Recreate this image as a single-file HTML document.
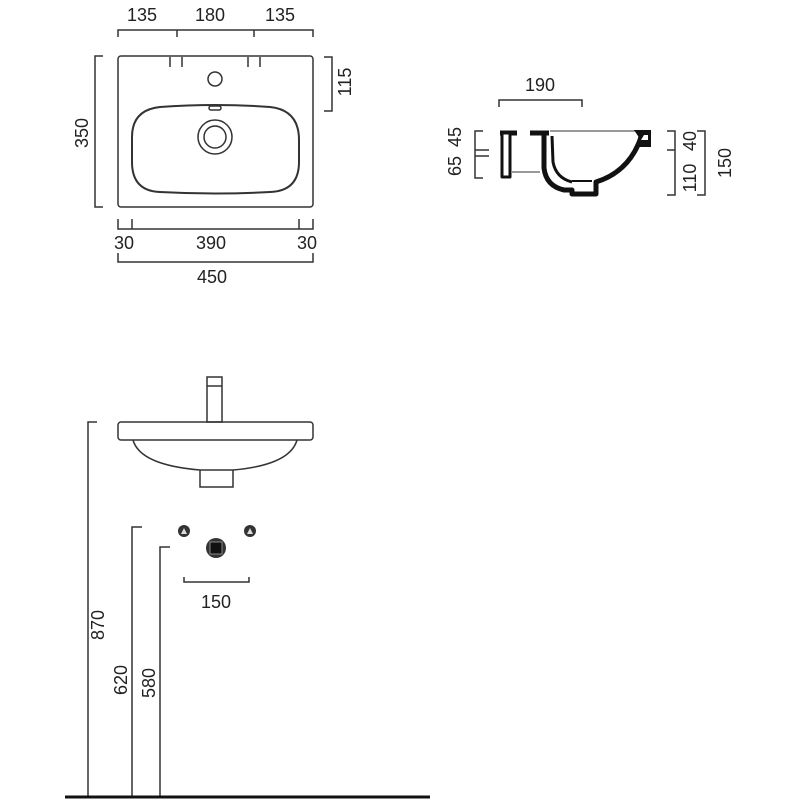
<!DOCTYPE html>
<html><head><meta charset="utf-8"><style>body{margin:0;background:#fff}svg{display:block}text{font-family:"Liberation Sans",sans-serif;font-size:18px;fill:#222}</style></head><body>
<svg width="800" height="800" viewBox="0 0 800 800" xmlns="http://www.w3.org/2000/svg">
<g fill="none" stroke="#333" stroke-width="1.5">
<!-- top view -->
<rect x="118" y="56" width="195" height="151" rx="3"/>
<path d="M170 57v10M182 57v10M248 57v10M260 57v10"/>
<circle cx="215" cy="79" r="7"/>
<path d="M160 107 Q215 103 270 107 Q299 110 299 140 L299 162 Q299 191 270 192 Q215 195 160 192 Q132 191 132 162 L132 137 Q132 110 160 107Z" stroke-width="2"/>
<rect x="209" y="106" width="12" height="4" rx="2"/>
<circle cx="215" cy="137" r="17"/><circle cx="215" cy="137" r="11"/>
<path d="M118 37v-7h195v7M177 30v7M254 30v7"/>
<path d="M324 57h8v54h-8"/>
<path d="M103 56h-8v151h8"/>
<path d="M118 219v10h195v-10M132 219v10M299 219v10"/>
<path d="M118 253v9h195v-9"/>
<!-- section dims -->
<path d="M499 107v-7h83v7"/>
<path d="M483 131h-8v47h8M475 150h14M475 156h14"/>
<path d="M667 131h8v64h-8M667 150h8M697 131h8v64h-8"/>
<path d="M550 131h88" stroke-width="1"/>
<path d="M512 172h28" stroke-width="1"/>
</g>
<!-- section body -->
<g fill="none" stroke="#111" stroke-linejoin="round">
<path d="M500 133h17M530 133h19" stroke-width="5"/>
<rect x="502" y="133" width="8" height="44" stroke-width="3" fill="#fff"/>
<path d="M544 133 L544 168 Q546 186 564 190 L572 190 L572 194 L596 194 L596 182 Q628 172 640 140 L642 133" stroke-width="5"/>
<path d="M552 136 L553 162 Q556 178 572 182" stroke-width="3"/>
<path d="M572 181h20" stroke-width="2"/>
</g>
<path d="M634 130h17v17h-15l4-8z" fill="#111"/>
<path d="M641 140l3-5h4v5z" fill="#fff"/>
<g fill="none" stroke="#333" stroke-width="1.5">
<!-- front view -->
<rect x="207" y="377" width="15" height="45"/>
<path d="M207 386h15"/>
<rect x="118" y="422" width="195" height="18" rx="3"/>
<path d="M133 440 Q140 465 200 470 L233 470 Q290 465 297 440"/>
<path d="M200 470v17h33v-17"/>
<path d="M97 422h-9v375M142 527h-10v270M170 547h-10v250"/>
<path d="M184 577v5h65v-5"/>
</g>
<circle cx="184" cy="531" r="6" fill="#333"/><circle cx="250" cy="531" r="6" fill="#333"/>
<path d="M181 534l3-6l3 6z M247 534l3-6l3 6z" fill="#ddd"/>
<circle cx="216" cy="548" r="10" fill="#333"/>
<rect x="210" y="542" width="12" height="12" fill="#111" stroke="#888" stroke-width="1"/>
<path d="M65 797h365" stroke="#111" stroke-width="3"/>
<g text-anchor="middle">
<text x="142" y="21">135</text><text x="210" y="21">180</text><text x="280" y="21">135</text>
<text x="124" y="249">30</text><text x="211" y="249">390</text><text x="307" y="249">30</text>
<text x="212" y="283">450</text>
<text x="540" y="91">190</text>
<text x="216" y="608">150</text>
<text transform="translate(351,82) rotate(-90)">115</text>
<text transform="translate(88,133) rotate(-90)">350</text>
<text transform="translate(461,137) rotate(-90)">45</text>
<text transform="translate(461,166) rotate(-90)">65</text>
<text transform="translate(696,141) rotate(-90)">40</text>
<text transform="translate(696,178) rotate(-90)">110</text>
<text transform="translate(731,163) rotate(-90)">150</text>
<text transform="translate(104,625) rotate(-90)">870</text>
<text transform="translate(127,680) rotate(-90)">620</text>
<text transform="translate(155,683) rotate(-90)">580</text>
</g>
</svg>
</body></html>
